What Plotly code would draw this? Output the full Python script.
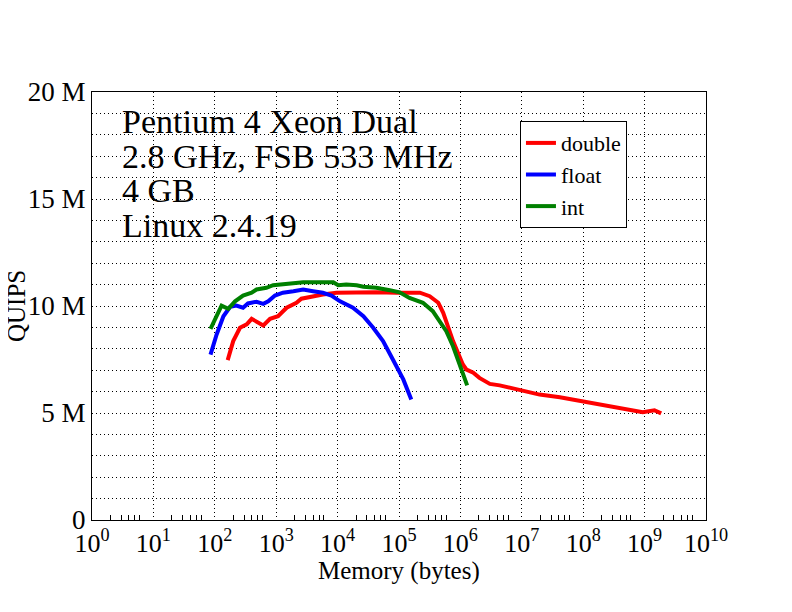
import plotly.graph_objects as go

# memory sizes (log10 bytes) and QUIPS values (millions)
double_logx = [2.21, 2.30, 2.41, 2.52, 2.60, 2.71, 2.79, 2.90, 3.03, 3.17, 3.33, 3.41, 3.60, 3.76, 3.98,
               4.20, 4.42, 4.63, 4.96, 5.17, 5.34, 5.50, 5.64, 5.72, 5.80, 5.88, 5.96, 6.04, 6.10, 6.21,
               6.31, 6.48, 6.64, 6.86, 7.02, 7.29, 7.62, 7.94, 8.27, 8.59, 8.81, 8.97, 9.16, 9.27]
double_y = [7.47, 8.36, 8.98, 9.14, 9.40, 9.21, 9.09, 9.40, 9.52, 9.92, 10.15, 10.34, 10.46, 10.54, 10.62,
            10.64, 10.62, 10.64, 10.62, 10.64, 10.62, 10.46, 10.15, 9.68, 8.98, 8.36, 7.81, 7.27, 7.03, 6.88,
            6.64, 6.36, 6.29, 6.13, 6.02, 5.86, 5.74, 5.58, 5.40, 5.27, 5.16, 5.04, 5.13, 4.98]

float_logx = [1.93, 2.03, 2.14, 2.25, 2.35, 2.46, 2.54, 2.68, 2.79, 2.87, 2.98, 3.11, 3.28, 3.44, 3.60,
              3.76, 3.90, 4.04, 4.25, 4.42, 4.58, 4.74, 4.90, 5.07, 5.20]
float_y = [7.73, 8.67, 9.52, 9.96, 10.02, 9.92, 10.12, 10.20, 10.10, 10.22, 10.49, 10.62, 10.69, 10.77, 10.69,
           10.62, 10.49, 10.22, 9.92, 9.52, 8.98, 8.36, 7.50, 6.57, 5.63]

int_logx = [1.93, 2.11, 2.22, 2.33, 2.46, 2.60, 2.68, 2.84, 2.95, 3.17, 3.44, 3.93, 4.01, 4.14, 4.31,
            4.42, 4.63, 4.85, 5.01, 5.17, 5.39, 5.55, 5.66, 5.77, 5.88, 5.99, 6.11]
int_y = [8.93, 10.02, 9.87, 10.22, 10.49, 10.62, 10.77, 10.85, 10.97, 11.05, 11.11, 11.11, 10.97, 11.00, 10.97,
         10.90, 10.85, 10.74, 10.64, 10.38, 10.15, 9.76, 9.29, 8.82, 8.12, 7.19, 6.29]

x_tick_exps = list(range(0, 11))
x_minor_mults = [2, 3, 4, 5, 6]
y_tick_vals = [0, 5, 10, 15, 20]
y_tick_text = ["0", "5 M", "10 M", "15 M", "20 M"]
info_lines = ["Pentium 4 Xeon Dual", "2.8 GHz, FSB 533 MHz", "4 GB", "Linux 2.4.19"]
x_title = "Memory (bytes)"
y_title = "QUIPS"

FONT = "Liberation Serif, Times New Roman, serif"
DOT = "1px,3px"

fig = go.Figure()
for name, lx, yv, col in [("double", double_logx, double_y, "#ff0000"),
                          ("float", float_logx, float_y, "#0000ff"),
                          ("int", int_logx, int_y, "#008000")]:
    fig.add_trace(go.Scatter(x=[10 ** v for v in lx], y=yv, mode="lines", name=name,
                             line=dict(color=col, width=4)))

minor_vals = [m * 10 ** e for e in range(0, 10) for m in x_minor_mults]

fig.update_layout(
    width=792, height=612,
    margin=dict(l=84, r=94, t=84, b=100),
    paper_bgcolor="white", plot_bgcolor="white",
    font=dict(family=FONT, size=24, color="black"),
    showlegend=True,
    legend=dict(x=0.697, y=0.932, xanchor="left", yanchor="top",
                bordercolor="black", borderwidth=1, bgcolor="white",
                font=dict(family=FONT, size=22), tracegroupgap=0, itemwidth=30),
    xaxis=dict(type="log", range=[0, 10], automargin=False,
               tickvals=[10 ** e for e in x_tick_exps],
               ticktext=[f"10<sup>{e}</sup>" for e in x_tick_exps],
               ticks="",
               showgrid=True, gridcolor="black", griddash=DOT, gridwidth=1,
               showline=True, linecolor="black", linewidth=1, mirror=True,
               minor=dict(tickvals=minor_vals, ticks="inside", ticklen=5, tickcolor="black", showgrid=False),
               tickfont=dict(size=26),
               zeroline=False),
    yaxis=dict(range=[0, 20], tickvals=y_tick_vals, ticktext=y_tick_text, automargin=False,
               ticks="", showgrid=True, gridcolor="black", griddash=DOT, gridwidth=1,
               showline=True, linecolor="black", linewidth=1, mirror=True,
               minor=dict(dtick=1, showgrid=True, gridcolor="black", griddash=DOT, gridwidth=1),
               tickfont=dict(size=27),
               zeroline=False),
)

line_y = [0.932, 0.850, 0.771, 0.687]
for txt, yy in zip(info_lines, line_y):
    fig.add_annotation(xref="paper", yref="paper", x=0.046, y=yy, xanchor="left", yanchor="middle",
                       text=txt, showarrow=False, align="left",
                       font=dict(family=FONT, size=34, color="black"))

fig.add_annotation(xref="paper", yref="paper", x=0.5, y=-0.119, xanchor="center", yanchor="middle",
                   text=x_title, showarrow=False, font=dict(family=FONT, size=25, color="black"))
fig.add_annotation(xref="paper", yref="paper", x=-0.1238, y=0.5, xanchor="center", yanchor="middle",
                   text=y_title, textangle=-90, showarrow=False, font=dict(family=FONT, size=25, color="black"))

fig.write_html("out.html")
